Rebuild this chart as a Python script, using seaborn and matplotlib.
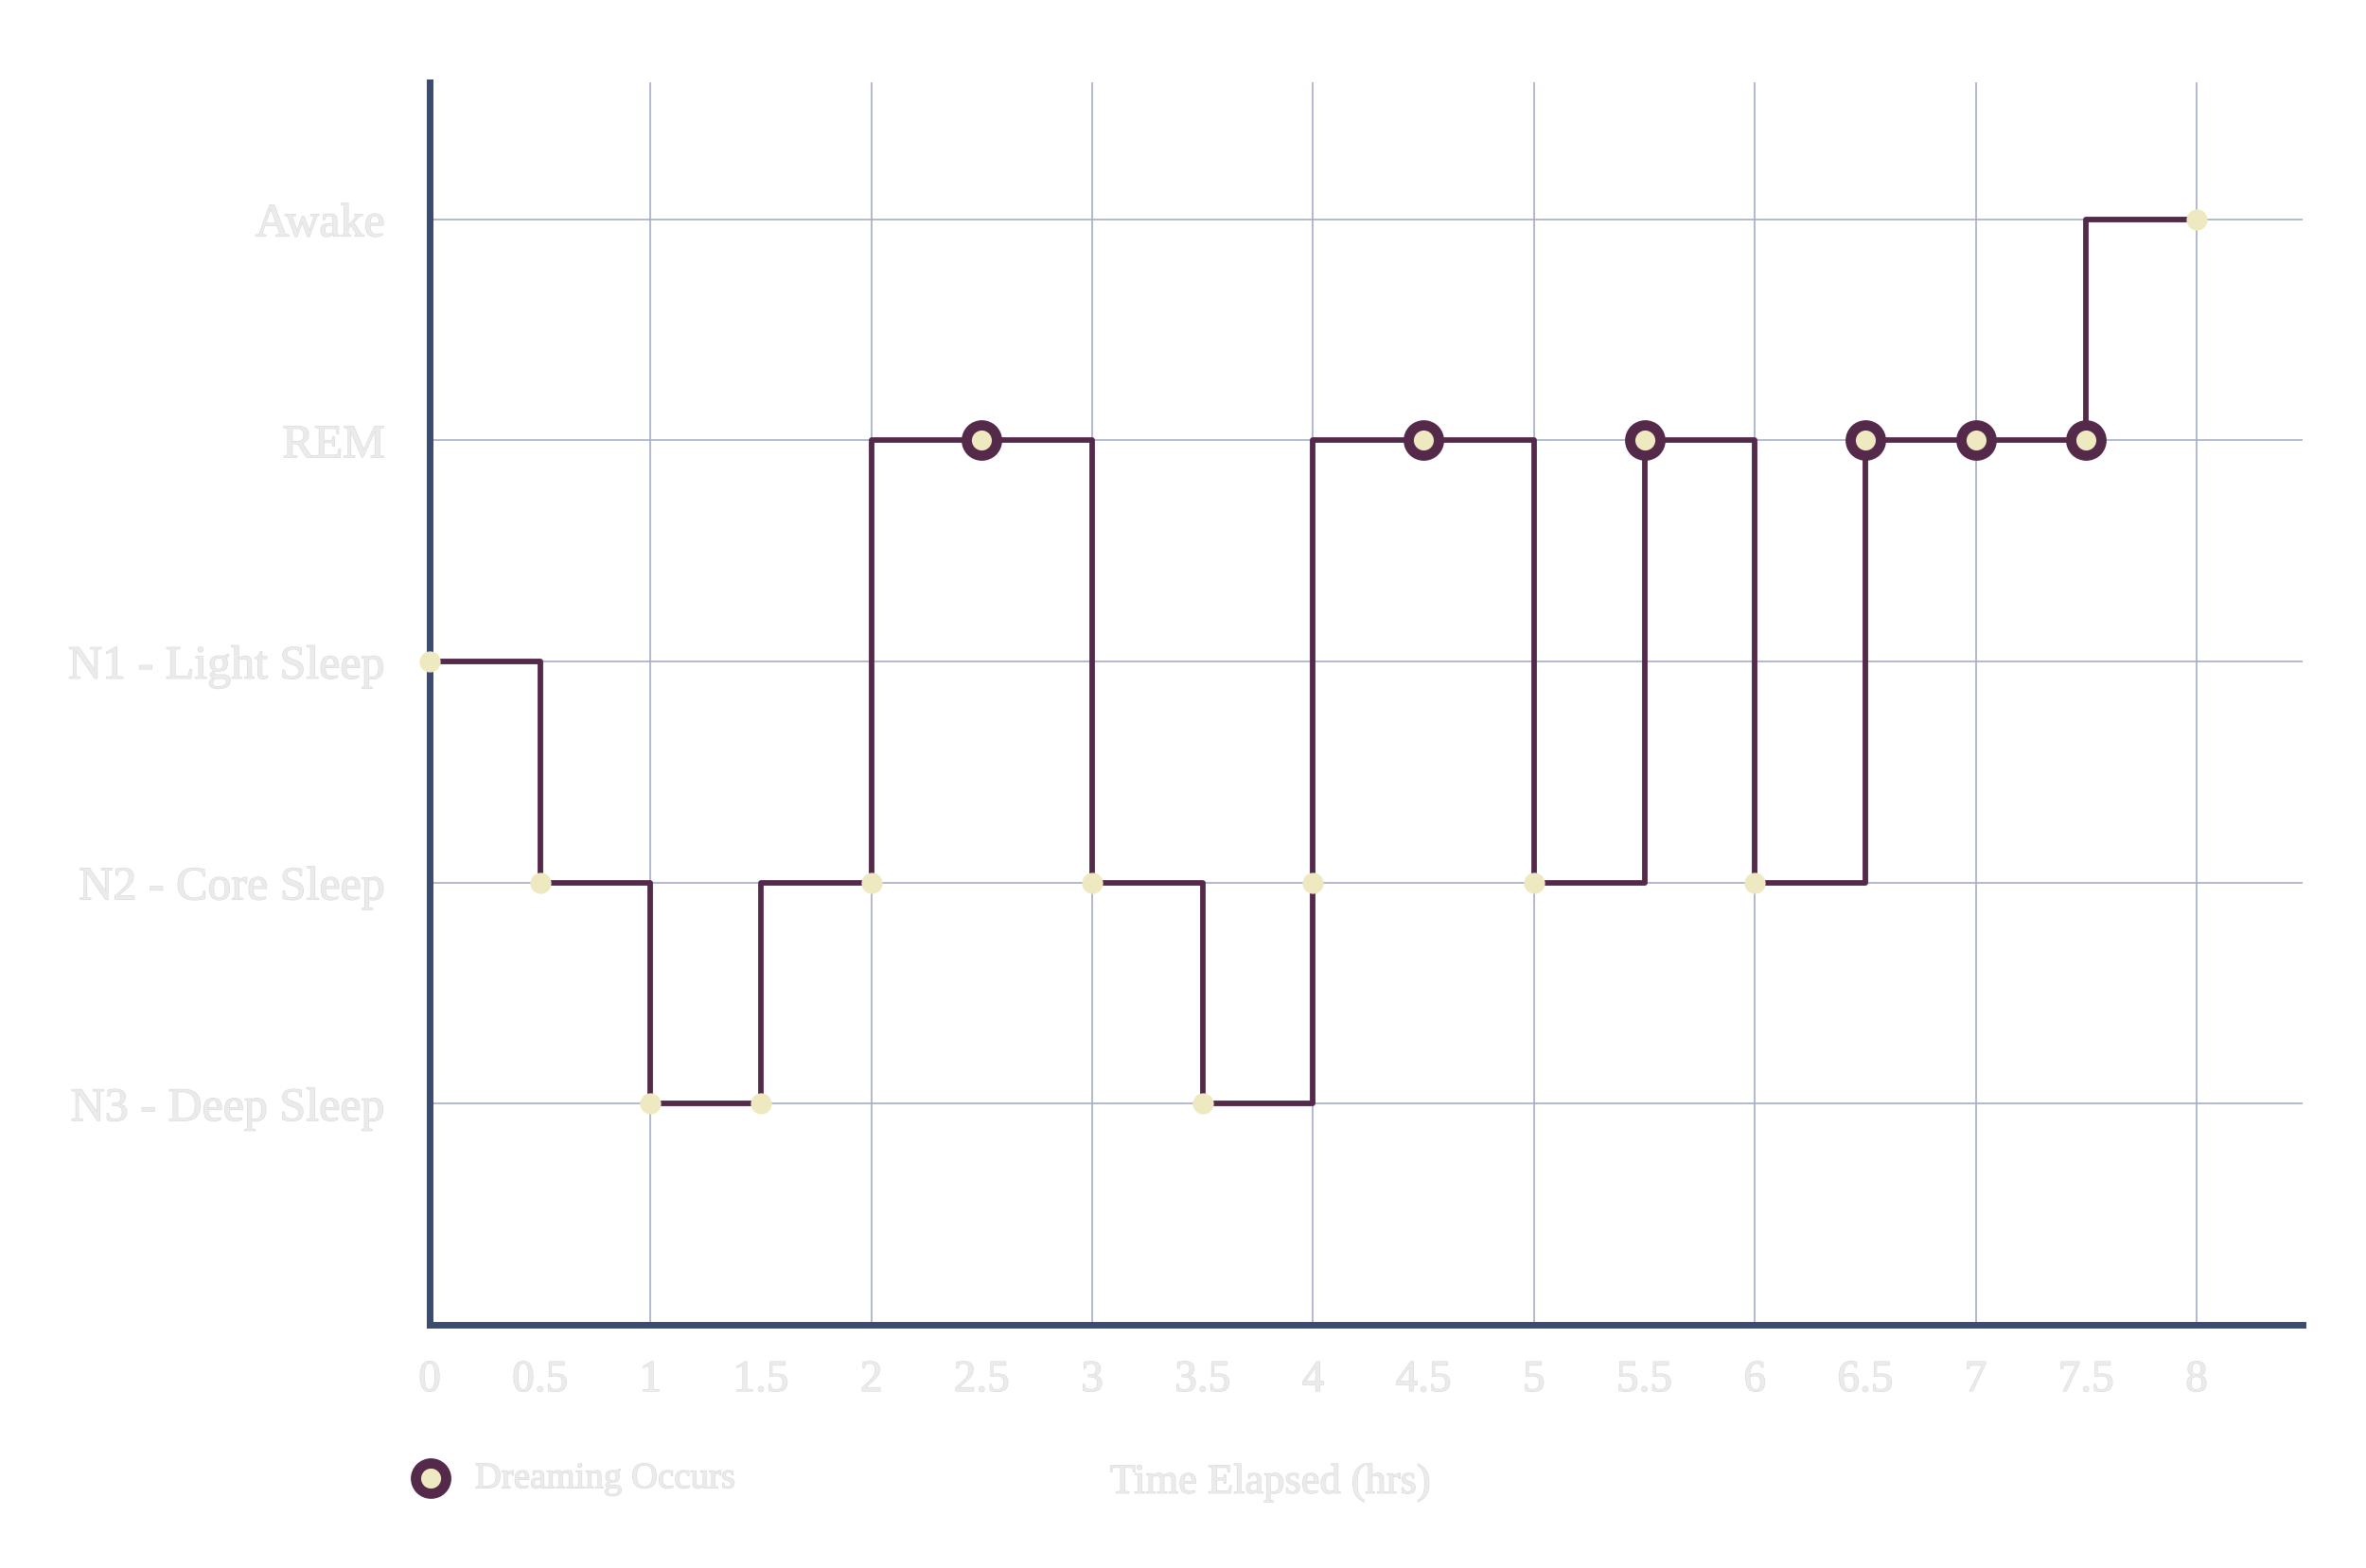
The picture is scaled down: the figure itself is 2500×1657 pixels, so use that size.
import numpy as np
import pandas as pd
import matplotlib.pyplot as plt
import matplotlib.patheffects as pe
import seaborn as sns

# sleep stages, bottom to top
stages = ["N3 - Deep Sleep", "N2 - Core Sleep", "N1 - Light Sleep", "REM", "Awake"]
times = [0, 0.5, 1, 1.5, 2, 2.5, 3, 3.5, 4, 4.5, 5, 5.5, 6, 6.5, 7, 7.5, 8]

# stage the hypnogram line holds from each time until the next one
line_stage = ["N1 - Light Sleep", "N2 - Core Sleep", "N3 - Deep Sleep",
              "N2 - Core Sleep", "REM", "REM", "N2 - Core Sleep",
              "N3 - Deep Sleep", "REM", "REM", "N2 - Core Sleep", "REM",
              "N2 - Core Sleep", "REM", "REM", "Awake", "Awake"]

# stage recorded at each sample (the dots)
dot_stage = ["N1 - Light Sleep", "N2 - Core Sleep", "N3 - Deep Sleep",
             "N3 - Deep Sleep", "N2 - Core Sleep", "REM", "N2 - Core Sleep",
             "N3 - Deep Sleep", "N2 - Core Sleep", "REM", "N2 - Core Sleep",
             "REM", "N2 - Core Sleep", "REM", "REM", "REM", "Awake"]

dreaming = [False, False, False, False, False, True, False, False, False,
            True, False, True, False, True, True, True, False]

xticks = [0, 0.5, 1, 1.5, 2, 2.5, 3, 3.5, 4, 4.5, 5, 5.5, 6, 6.5, 7, 7.5, 8]
xtick_labels = ["0", "0.5", "1", "1.5", "2", "2.5", "3", "3.5", "4", "4.5",
                "5", "5.5", "6", "6.5", "7", "7.5", "8"]

level = {s: i + 1 for i, s in enumerate(stages)}
df = pd.DataFrame({"time": times,
                   "line": [level[s] for s in line_stage],
                   "dot": [level[s] for s in dot_stage],
                   "dream": dreaming})

LINE = "#54294a"
CREAM = "#efe9c1"
SPINE = "#3b4b72"
GRID = "#a5aec6"
TEXT = "#ebebeb"

sns.set_theme(style="white")
plt.rcParams["font.family"] = ["Liberation Serif", "DejaVu Serif"]

fig = plt.figure(figsize=(25, 16.57), dpi=100)
ax = fig.add_axes([0.1816, 0.1551, 0.9732 - 0.1816, 0.9475 - 0.1551])

sns.lineplot(data=df, x="time", y="line", drawstyle="steps-post",
             color=LINE, linewidth=4.2, ax=ax, zorder=3)

small = df[~df["dream"]]
big = df[df["dream"]]
sns.scatterplot(data=small, x="time", y="dot", color=CREAM, s=256,
                linewidth=0, ax=ax, zorder=4, clip_on=False)
sns.scatterplot(data=big, x="time", y="dot", color=CREAM, s=530,
                edgecolor=LINE, linewidth=7.8, ax=ax, zorder=5,
                clip_on=False, label="Dreaming Occurs")

ax.set_xlim(0, 8.48)
ax.set_ylim(0, 5.62)
ax.set_xticks(xticks)
ax.set_xticklabels(xtick_labels)
ax.set_yticks(range(1, len(stages) + 1))
ax.set_yticklabels(stages)

# gridlines only on whole hours
for x in range(1, 9):
    ax.axvline(x, color=GRID, linewidth=1.2, zorder=1)
for y in range(1, len(stages) + 1):
    ax.axhline(y, color=GRID, linewidth=1.2, zorder=1)

for side in ["top", "right"]:
    ax.spines[side].set_visible(False)
for side in ["left", "bottom"]:
    ax.spines[side].set_color(SPINE)
    ax.spines[side].set_linewidth(5)
    ax.spines[side].set_zorder(2)

outline = [pe.withStroke(linewidth=0.8, foreground="#d9d9d9")]
ax.tick_params(axis="x", length=0, pad=27, labelsize=34, colors=TEXT)
ax.tick_params(axis="y", length=0, pad=34, labelsize=36, colors=TEXT)
for t in ax.get_xticklabels() + ax.get_yticklabels():
    t.set_path_effects(outline)

ax.set_xlabel("Time Elapsed (hrs)", fontsize=32, color=TEXT)
ax.xaxis.set_label_coords(0.449, -0.127)
ax.xaxis.label.set_va("center")
ax.xaxis.label.set_path_effects(outline)
ax.set_ylabel("")

leg = ax.legend(loc="center left", bbox_to_anchor=(-0.0083, -0.124),
                frameon=False, fontsize=28, handlelength=0.9,
                handletextpad=0.75, borderpad=0, borderaxespad=0)
for t in leg.get_texts():
    t.set_color(TEXT)
    t.set_path_effects(outline)

fig.savefig("out.png", dpi=100, facecolor="white")
